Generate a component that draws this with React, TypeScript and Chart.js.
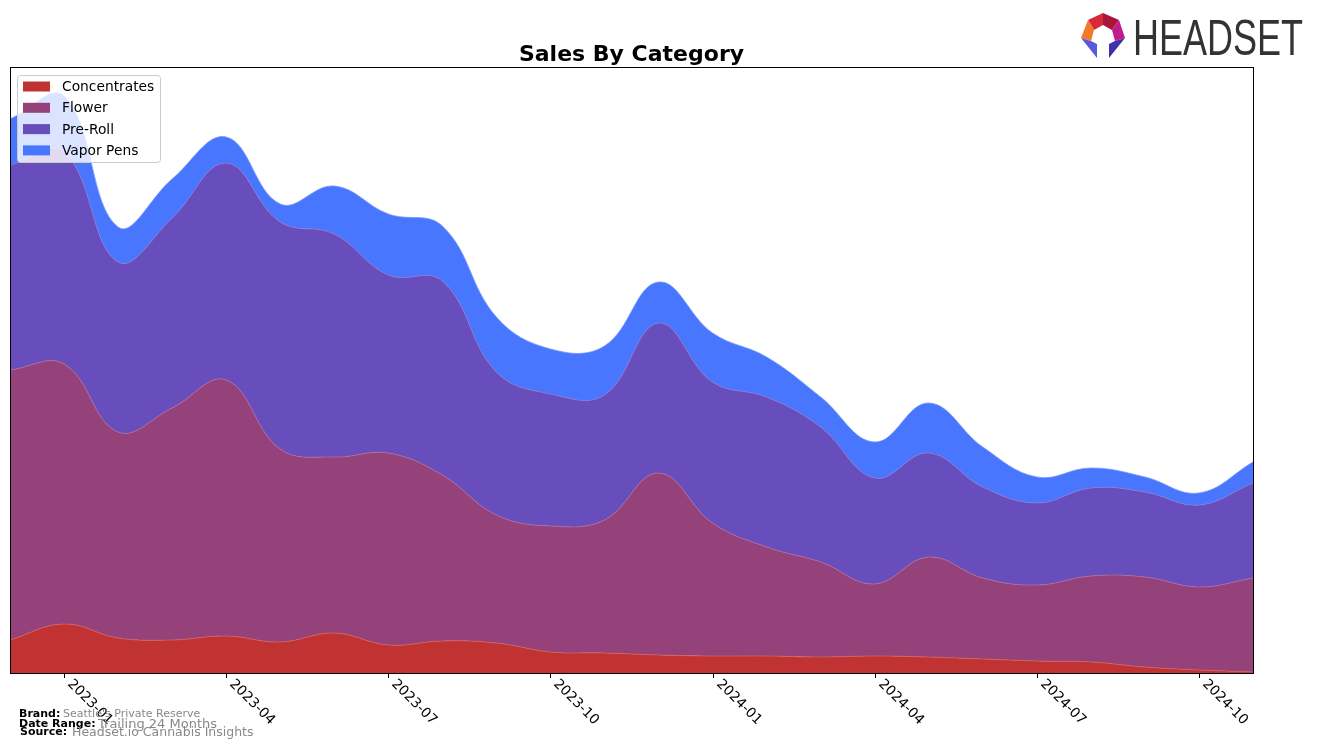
import React, { useEffect, useRef } from "react";
import { Chart, registerables } from "chart.js";

Chart.register(...registerables);

const months = [
  "2022-12", "2023-01", "2023-02", "2023-03", "2023-04", "2023-05", "2023-06", "2023-07",
  "2023-08", "2023-09", "2023-10", "2023-11", "2023-12", "2024-01", "2024-02", "2024-03",
  "2024-04", "2024-05", "2024-06", "2024-07", "2024-08", "2024-09", "2024-10", "2024-11",
];
const tickLabels = ["2023-01", "2023-04", "2023-07", "2023-10", "2024-01", "2024-04", "2024-07", "2024-10"];

const concentrates = [33, 49, 35, 33, 37, 31, 40, 28, 32, 30, 21, 20, 18, 17, 17, 16, 17, 16, 14, 12, 11, 6, 3, 1];
const flower = [270, 260, 206, 232, 256, 193, 176, 192, 166, 128, 126, 133, 182, 133, 109, 95, 72, 100, 81, 76, 86, 90, 83, 94];
const preRoll = [205, 212, 170, 190, 217, 227, 223, 178, 194, 143, 132, 125, 150, 141, 150, 135, 106, 104, 91, 82, 88, 85, 82, 95];
const vaporPens = [46, 56, 35, 39, 26, 18, 48, 61, 55, 55, 45, 49, 41, 49, 40, 30, 36, 50, 40, 26, 20, 15, 12, 21];

const seriesNames = ["Concentrates", "Flower", "Pre-Roll", "Vapor Pens"];
const seriesColors = ["#C13333", "#96427A", "#684EBC", "#4876FF"];
const edgeColors = ["#D06060", "#B0689A", "#8A76D0", "#7096FF"];

const FONT = "'DejaVu Sans', sans-serif";

const decorPlugin = {
  id: "decor",
  afterDraw(chart: any) {
    const ctx = chart.ctx as CanvasRenderingContext2D;
    const area = chart.chartArea;
    const xs = chart.scales.x;
    ctx.save();
    // frame
    ctx.strokeStyle = "#000";
    ctx.lineWidth = 1;
    ctx.strokeRect(area.left + 0.5, area.top + 0.5, area.right - area.left, area.bottom - area.top);
    // ticks + rotated labels
    ctx.fillStyle = "#000";
    ctx.font = `13.8px ${FONT}`;
    ctx.textAlign = "left";
    ctx.textBaseline = "top";
    tickLabels.forEach((lab) => {
      const idx = months.indexOf(lab);
      const px = Math.round(xs.getPixelForValue(idx)) + 0.5;
      ctx.beginPath();
      ctx.moveTo(px, area.bottom);
      ctx.lineTo(px, area.bottom + 5);
      ctx.stroke();
      ctx.save();
      ctx.translate(px + 10, area.bottom + 4);
      ctx.rotate(Math.PI / 4);
      ctx.fillText(lab, 0, 0);
      ctx.restore();
    });
    // title
    ctx.font = `bold 22px ${FONT}`;
    ctx.textAlign = "center";
    ctx.textBaseline = "alphabetic";
    ctx.fillText("Sales By Category", (area.left + area.right) / 2, 61);
    // legend
    const lx = 17, ly = 75, lw = 143, lh = 87;
    ctx.fillStyle = "rgba(255,255,255,0.8)";
    ctx.strokeStyle = "#cccccc";
    ctx.beginPath();
    (ctx as any).roundRect(lx + 0.5, ly + 0.5, lw, lh, 3);
    ctx.fill();
    ctx.stroke();
    ctx.font = `13.8px ${FONT}`;
    ctx.textAlign = "left";
    ctx.textBaseline = "middle";
    seriesNames.forEach((name, i) => {
      const cy = 86.5 + i * 21.3;
      ctx.fillStyle = seriesColors[i];
      ctx.fillRect(23, cy - 5, 27, 10);
      ctx.fillStyle = "#000";
      ctx.fillText(name, 62, cy + 1);
    });
    // footer
    ctx.textBaseline = "alphabetic";
    ctx.fillStyle = "#000";
    ctx.font = `bold 11px ${FONT}`;
    ctx.fillText("Brand:", 19, 717);
    ctx.fillText("Date Range:", 19, 727);
    ctx.fillText("Source:", 20, 735);
    ctx.fillStyle = "#888";
    ctx.font = `11px ${FONT}`;
    ctx.fillText("Seattle's Private Reserve", 63, 717);
    ctx.font = `13px ${FONT}`;
    ctx.fillText("Trailing 24 Months", 98, 728);
    ctx.font = `12.5px ${FONT}`;
    ctx.fillText("Headset.io Cannabis Insights", 72, 736);
    // logo icon
    const poly = (pts: number[][], color: string) => {
      ctx.fillStyle = color;
      ctx.beginPath();
      ctx.moveTo(pts[0][0], pts[0][1]);
      for (let k = 1; k < pts.length; k++) ctx.lineTo(pts[k][0], pts[k][1]);
      ctx.closePath();
      ctx.fill();
    };
    poly([[1088, 20], [1103, 13], [1103, 25], [1094, 30]], "#D8283A");
    poly([[1103, 13], [1119, 20], [1112, 30], [1103, 25]], "#A8163A");
    poly([[1088, 20], [1081, 38], [1091, 41], [1094, 30]], "#F07A2A");
    poly([[1119, 20], [1125, 38], [1115, 41], [1112, 30]], "#C21C8C");
    poly([[1081, 38], [1091, 41], [1097, 44], [1097, 58]], "#5A5ADC");
    poly([[1125, 38], [1115, 41], [1109, 44], [1109, 58]], "#3E32A8");
    // logo text
    ctx.fillStyle = "#333";
    ctx.font = `50px 'Liberation Sans Narrow', 'Liberation Sans', ${FONT}`;
    ctx.textAlign = "left";
    ctx.textBaseline = "alphabetic";
    const w = ctx.measureText("HEADSET").width;
    ctx.save();
    ctx.translate(1133, 55);
    ctx.scale(170 / w, 1);
    ctx.fillText("HEADSET", 0, 0);
    ctx.restore();
    ctx.restore();
  },
};

export default function App() {
  const ref = useRef<HTMLCanvasElement | null>(null);
  useEffect(() => {
    if (!ref.current) return;
    const all = [concentrates, flower, preRoll, vaporPens];
    const chart = new Chart(ref.current, {
      type: "line",
      data: {
        datasets: all.map((arr, i) => ({
          label: seriesNames[i],
          data: arr.map((v, k) => ({ x: k, y: v })),
          backgroundColor: seriesColors[i],
          borderColor: edgeColors[i],
          borderWidth: 0.8,
          pointRadius: 0,
          tension: 0.4,
          fill: i === 0 ? "origin" : "-1",
        })),
      },
      options: {
        animation: false,
        responsive: false,
        maintainAspectRatio: false,
        layout: { padding: { left: 10, right: 64, top: 67, bottom: 74 } },
        plugins: { legend: { display: false }, title: { display: false }, tooltip: { enabled: false } },
        scales: {
          x: { type: "linear", min: 0, max: months.length - 1, display: false },
          y: { stacked: true, min: 0, max: 606, display: false },
        },
      },
      plugins: [decorPlugin],
    });
    return () => chart.destroy();
  }, []);
  return (
    <div style={{ position: "absolute", left: 0, top: 0, width: 1317, height: 747, background: "#fff" }}>
      <canvas ref={ref} width={1317} height={747} style={{ width: 1317, height: 747 }} />
    </div>
  );
}
